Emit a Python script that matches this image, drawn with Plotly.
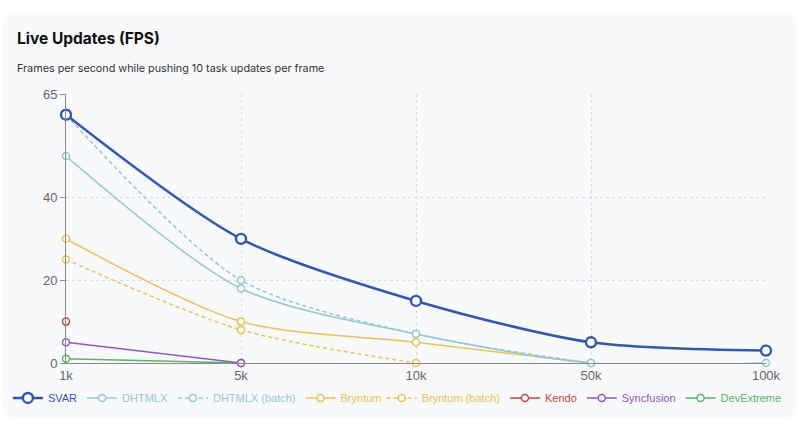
import plotly.graph_objects as go

categories = ["1k", "5k", "10k", "50k", "100k"]
svar = [60, 30, 15, 5, 3]
dhtmlx = [50, 18, 7, 0, 0]
dhtmlx_batch = [60, 20, 7, 0, None]
bryntum = [30, 10, 5, 0, None]
bryntum_batch = [25, 8, 0, None, None]
kendo = [10, None, None, None, None]
syncfusion = [5, 0, None, None, None]
devextreme = [1, 0, None, None, None]

y_ticks = [0, 20, 40, 65]

series = [
    ("SVAR", svar, "#2f56b8", "solid", 2.6, 10, 2.4, "legend"),
    ("DHTMLX", dhtmlx, "#92c8d4", "solid", 1.5, 7, 1.5, "legend"),
    ("DHTMLX (batch)", dhtmlx_batch, "#92c8d4", "4px,3px", 1.5, 7, 1.5, "legend"),
    ("Bryntum", bryntum, "#efc24f", "solid", 1.5, 7, 1.5, "legend"),
    ("Bryntum (batch)", bryntum_batch, "#efc24f", "4px,3px", 1.5, 7, 1.5, "legend2"),
    ("Kendo", kendo, "#c9463f", "solid", 1.5, 7, 1.5, "legend2"),
    ("Syncfusion", syncfusion, "#9457c0", "solid", 1.5, 7, 1.5, "legend2"),
    ("DevExtreme", devextreme, "#5cb466", "solid", 1.5, 7, 1.5, "legend2"),
]

fig = go.Figure()
n = len(series)
for i, (name, vals, color, dash, lw, ms, mlw, lg) in enumerate(reversed(series)):
    rank = n - i
    fig.add_trace(go.Scatter(
        x=categories, y=vals,
        name=f"<span style='color:{color}'>{name}</span>",
        mode="lines+markers",
        line=dict(color=color, width=lw, dash=dash, shape="spline", smoothing=0.8),
        marker=dict(size=ms, color="#ffffff", line=dict(color=color, width=mlw)),
        cliponaxis=False,
        legendrank=rank,
        legend=lg,
        connectgaps=False,
    ))

legend_common = dict(
    orientation="h", xanchor="left", y=-0.13, yanchor="middle",
    font=dict(size=11), itemwidth=30, tracegroupgap=0,
    bgcolor="rgba(0,0,0,0)", traceorder="normal",
)

fig.update_layout(
    width=799, height=436,
    paper_bgcolor="#ffffff",
    plot_bgcolor="rgba(0,0,0,0)",
    margin=dict(l=66, r=33, t=94, b=73, autoexpand=False),
    font=dict(family="Liberation Sans, Arial, sans-serif", size=13, color="#666666"),
    showlegend=True,
    legend=dict(x=-0.083, **legend_common),
    legend2=dict(x=0.451, **legend_common),
    xaxis=dict(
        type="category", range=[0, 4], showgrid=True, gridcolor="#d9dde3",
        griddash="dot", gridwidth=1, showline=True, linecolor="#8a8a8a",
        linewidth=1, zeroline=False, ticks="", tickfont=dict(size=13, color="#666666"),
        fixedrange=True,
    ),
    yaxis=dict(
        range=[0, 65], tickvals=y_ticks, ticktext=[str(v) for v in y_ticks],
        showgrid=True, gridcolor="#d9dde3", griddash="dot", gridwidth=1,
        showline=True, linecolor="#8a8a8a", linewidth=1, zeroline=False,
        ticks="outside", ticklen=5, tickcolor="#8a8a8a",
        tickfont=dict(size=13, color="#666666"), fixedrange=True,
    ),
    shapes=[dict(
        type="path", xref="paper", yref="paper", layer="below",
        path="M -0.09,1.26 Q -0.09,1.305 -0.073,1.305 L 1.027,1.305 Q 1.044,1.305 1.044,1.26 "
             "L 1.044,-0.16 Q 1.044,-0.2045 1.027,-0.2045 L -0.073,-0.2045 Q -0.09,-0.2045 -0.09,-0.16 Z",
        fillcolor="#f7f9fb", line=dict(width=0),
    )],
    annotations=[
        dict(text="<b>Live Updates (FPS)</b>", xref="paper", yref="paper",
             x=-0.0729, y=1.208, xanchor="left", yanchor="middle", showarrow=False,
             font=dict(family="Inter, sans-serif", size=15.5, color="#111111")),
        dict(text="Frames per second while pushing 10 task updates per frame",
             xref="paper", yref="paper", x=-0.0729, y=1.093, xanchor="left",
             yanchor="middle", showarrow=False,
             font=dict(family="Inter, sans-serif", size=10.8, color="#333333")),
    ],
)

fig.write_html("out.html")
